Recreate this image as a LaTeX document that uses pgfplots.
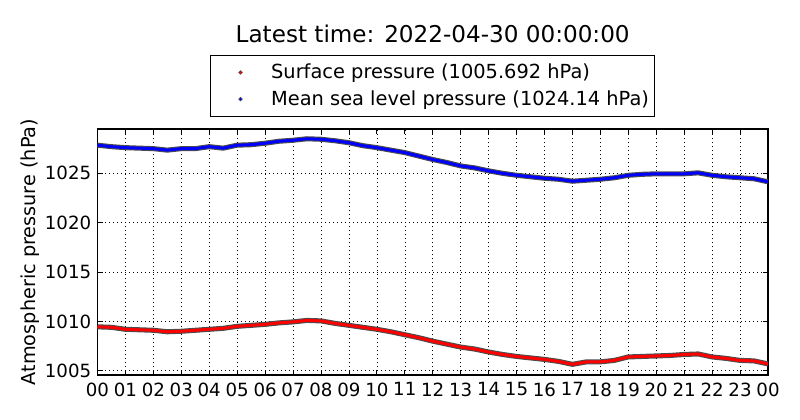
\documentclass[border=0pt]{standalone}
\usepackage{fontspec}
\setmainfont{DejaVu Sans}
\usepackage{pgfplots}
\usepackage{pgfplotstable}
\pgfplotsset{compat=1.18}
\pgfplotstableread{
h p
0 1009.45
0.5 1009.4
1 1009.2
1.5 1009.15
2 1009.1
2.5 1008.95
3 1009.0
3.5 1009.1
4 1009.2
4.5 1009.3
5 1009.5
5.5 1009.6
6 1009.7
6.5 1009.85
7 1009.95
7.5 1010.1
8 1010.05
8.5 1009.8
9 1009.6
9.5 1009.4
10 1009.2
10.5 1008.95
11 1008.65
11.5 1008.35
12 1008.0
12.5 1007.7
13 1007.4
13.5 1007.2
14 1006.9
14.5 1006.65
15 1006.45
15.5 1006.3
16 1006.15
16.5 1005.95
17 1005.65
17.5 1005.9
18 1005.9
18.5 1006.05
19 1006.4
19.5 1006.45
20 1006.5
20.5 1006.55
21 1006.65
21.5 1006.7
22 1006.4
22.5 1006.25
23 1006.05
23.5 1006.0
24 1005.692
}\sfc
\pgfplotstableread{
h p
0 1027.85
0.5 1027.7
1 1027.6
1.5 1027.55
2 1027.5
2.5 1027.35
3 1027.5
3.5 1027.5
4 1027.7
4.5 1027.55
5 1027.85
5.5 1027.9
6 1028.05
6.5 1028.25
7 1028.35
7.5 1028.5
8 1028.45
8.5 1028.3
9 1028.1
9.5 1027.8
10 1027.6
10.5 1027.35
11 1027.1
11.5 1026.75
12 1026.4
12.5 1026.1
13 1025.75
13.5 1025.55
14 1025.25
14.5 1025.0
15 1024.8
15.5 1024.65
16 1024.5
16.5 1024.4
17 1024.2
17.5 1024.3
18 1024.4
18.5 1024.55
19 1024.8
19.5 1024.9
20 1024.95
20.5 1024.95
21 1024.95
21.5 1025.05
22 1024.8
22.5 1024.65
23 1024.55
23.5 1024.45
24 1024.14
}\msl
\begin{document}
\begin{tikzpicture}
\begin{axis}[
  name=ax, at={(0,0)}, anchor=south west,
  scale only axis, width=502.9bp, height=184.5bp,
  xmin=0, xmax=24, ymin=1004.57, ymax=1029.49,
  xtick={0,1,...,24},
  xticklabels={00,01,02,03,04,05,06,07,08,09,10,11,12,13,14,15,16,17,18,19,20,21,22,23,00},
  ytick={1005,1010,1015,1020,1025},
  scaled y ticks=false,
  /pgf/number format/1000 sep={},
  /pgf/number format/assume math mode=true,
  grid=major,
  grid style={black, line width=0.4bp, dash pattern=on 0.75bp off 2.25bp},
  axis line style={line width=0.9bp},
  tick style={black, line width=0.6bp},
  tick align=inside, major tick length=4bp,
  yticklabel style={font=\fontsize{13.7}{16}\selectfont, inner sep=0pt, xshift=-4.5bp},
  xticklabel style={font=\fontsize{13.7}{16}\selectfont, inner sep=0pt, yshift=-5.5bp},
  title={Latest time: 2022-04-30 00:00:00},
  title style={at={(0.5,1)}, anchor=base, yshift=59.25bp, font=\fontsize{17.4}{20}\selectfont},
  legend style={at={(0.5,1)}, anchor=south, yshift=9bp, draw=black, line width=0.8bp,
    font=\fontsize{14.6}{17}\selectfont, inner xsep=2.5bp, inner ysep=4.75bp, row sep=3.5bp},
  legend cell align=left,
]
\addplot[black!70, line width=3.8bp, forget plot] table[x=h, y=p] {\sfc};
\addplot[black!70, line width=3.8bp, forget plot] table[x=h, y=p] {\msl};
\addplot[red, line width=2.2bp,
  legend image code/.code={\path[draw=none, fill=none] (-20bp,0) -- (21bp,0); \filldraw[fill=red, draw=black!70, line width=0.3bp] (0,0) circle (1.4bp);}]
  table[x=h, y=p] {\sfc};
\addlegendentry{Surface pressure (1005.692 hPa)}
\addplot[blue, line width=2.2bp,
  legend image code/.code={\path[draw=none, fill=none] (-20bp,0) -- (21bp,0); \filldraw[fill=blue, draw=black!70, line width=0.3bp] (0,0) circle (1.4bp);}]
  table[x=h, y=p] {\msl};
\addlegendentry{Mean sea level pressure (1024.14 hPa)}
\end{axis}
\node[rotate=90, font=\fontsize{14.5}{17}\selectfont] at ([xshift=-50.6bp]ax.west) {Atmospheric pressure (hPa)};
\pgfresetboundingbox
\path[use as bounding box] ([shift={(-73.1bp,-33.75bp)}]ax.south west) rectangle ([shift={(526.9bp,281.25bp)}]ax.south west);
\end{tikzpicture}
\end{document}
